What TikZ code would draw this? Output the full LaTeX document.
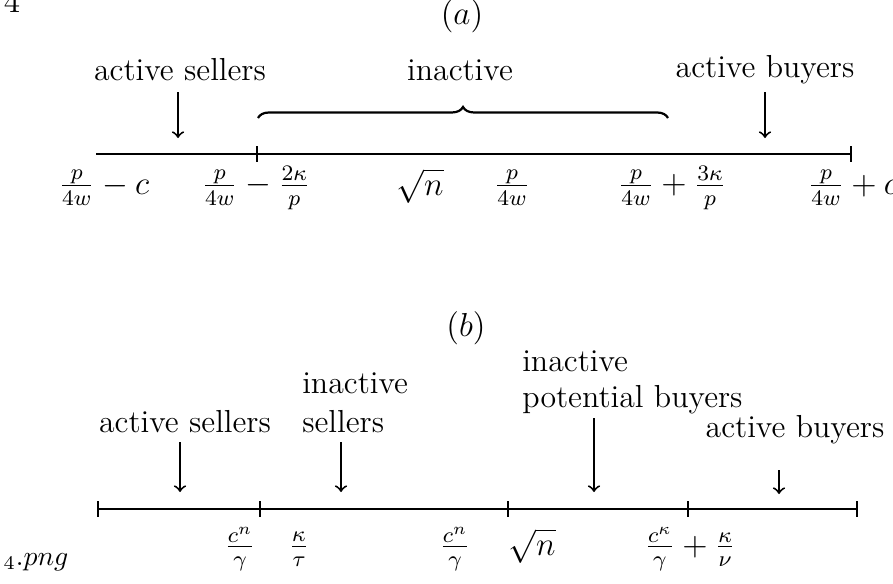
\documentclass[tikz,border=0pt]{standalone}
\usetikzlibrary{arrows,calc,decorations.pathreplacing}

\begin{document}
\begin{tikzpicture}[x=0.0127cm,y=-0.0127cm,
  axis/.style={line width=0.7pt},
  ptr/.style={->,line width=0.7pt},
  lbl/.style={inner sep=1pt,font=\fontsize{11.5}{13}\selectfont}]
\useasboundingbox (0,0) rectangle (893,583);

\node[lbl] (num) at (12,2) {$4$};
\node[lbl,font=\normalsize] (fname) at (36,562) {$_4.png$};

% (a)
\coordinate (A0) at (96,154);
\coordinate (A1) at (257,154);
\coordinate (A2) at (851,154);

\node[lbl] (ta) at (462,16) {$(a)$};
\node[lbl] (sellA) at (180,70) {active sellers};
\node[lbl] (inA) at (460,70) {inactive};
\node[lbl] (buyA) at (765,70) {active buyers};

\coordinate (sA) at (178,92);
\coordinate (sA') at (178,138);
\coordinate (bA) at (765,92);
\coordinate (bA') at (765,138);
\draw[ptr] (sA) -- (sA');
\draw[ptr] (bA) -- (bA');

\coordinate (brL) at (258,118);
\coordinate (brR) at (668,118);
\draw[line width=0.8pt,decorate,decoration={brace,amplitude=4pt}] (brL) -- (brR);

\draw[axis] (A0) -- (A2);
\foreach \p in {A1,A2}
  \draw[axis] ($(\p)+(0,-8)$) -- ($(\p)+(0,8)$);

\node[lbl] (a1) at (104,188) {$\frac{p}{4w}-c$};
\node[lbl] (a2) at (256,188) {$\frac{p}{4w}-\frac{2\kappa}{p}$};
\node[lbl] (a3) at (420,186) {$\sqrt{n}$};
\node[lbl] (a4) at (512,188) {$\frac{p}{4w}$};
\node[lbl] (a5) at (672,188) {$\frac{p}{4w}+\frac{3\kappa}{p}$};
\node[lbl] (a6) at (853,188) {$\frac{p}{4w}+c$};

% (b)
\coordinate (B0) at (98,509);
\coordinate (B1) at (260,509);
\coordinate (B2) at (508,509);
\coordinate (B3) at (688,509);
\coordinate (B4) at (857,509);

\node[lbl] (tb) at (466,328) {$(b)$};
\node[lbl] (sellB) at (185,422) {active sellers};
\node[lbl,anchor=west,align=left] (inB) at (299,403) {inactive\\[1pt]sellers};
\node[lbl,anchor=west,align=left] (potB) at (519,382) {inactive\\[0pt]potential buyers};
\node[lbl] (buyB) at (795,430) {active buyers};

\coordinate (sB) at (180,442);
\coordinate (sB') at (180,492);
\coordinate (iB) at (341,442);
\coordinate (iB') at (341,492);
\coordinate (pB) at (594,418);
\coordinate (pB') at (594,492);
\coordinate (bB) at (779,470);
\coordinate (bB') at (779,494);
\draw[ptr] (sB) -- (sB');
\draw[ptr] (iB) -- (iB');
\draw[ptr] (pB) -- (pB');
\draw[ptr] (bB) -- (bB');

\draw[axis] (B0) -- (B4);
\foreach \p in {B0,B1,B2,B3,B4}
  \draw[axis] ($(\p)+(0,-8)$) -- ($(\p)+(0,8)$);

\node[lbl] (b1) at (240,549) {$\frac{c^{n}}{\gamma}$};
\node[lbl] (b2) at (299,549) {$\frac{\kappa}{\tau}$};
\node[lbl] (b3) at (455,549) {$\frac{c^{n}}{\gamma}$};
\node[lbl] (b4) at (532,546) {$\sqrt{n}$};
\node[lbl] (b5) at (690,549) {$\frac{c^{\kappa}}{\gamma}+\frac{\kappa}{\nu}$};

\end{tikzpicture}
\end{document}
